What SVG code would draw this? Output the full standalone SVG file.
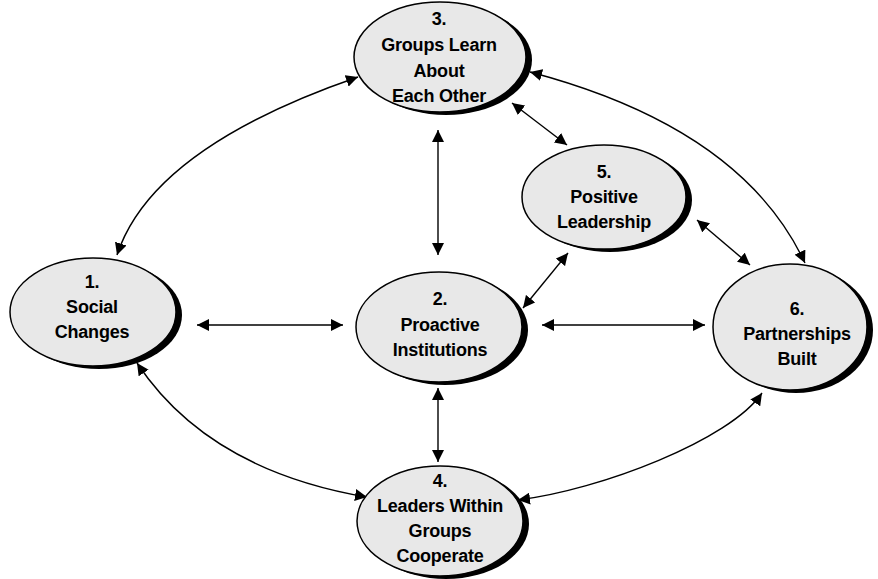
<svg xmlns="http://www.w3.org/2000/svg" width="878" height="579" viewBox="0 0 878 579">
<style>
.sh{fill:#000}
.el{fill:#e8e8e8;stroke:#000;stroke-width:1.5}
.t{font-family:"Liberation Sans",Arial,sans-serif;font-weight:bold;font-size:18px;fill:#000;text-anchor:middle;letter-spacing:-0.2px}
.c{fill:none;stroke:#000;stroke-width:1.4;marker-start:url(#ah);marker-end:url(#ah)}
</style>
<defs>
<marker id="ah" viewBox="0 0 10 10" refX="10" refY="5" markerWidth="12" markerHeight="12" markerUnits="userSpaceOnUse" orient="auto-start-reverse">
<path d="M0,0 L10,5 L0,10 z" fill="#000"/>
</marker>
</defs>
<rect width="878" height="579" fill="#fff"/>
<g id="connectors">
<path class="c" d="M117,255 Q152,148 358,77"/>
<path class="c" d="M530,72 Q742,128 805,263"/>
<path class="c" d="M137,363 Q208,470 367,497"/>
<path class="c" d="M762,393 C730,440 600,490 518,500"/>
<path class="c" d="M197,325 L343,325"/>
<path class="c" d="M542,325 L705,325"/>
<path class="c" d="M438,130 L438,255"/>
<path class="c" d="M438,388 L438,462"/>
<path class="c" d="M512,103 L567,145"/>
<path class="c" d="M568,253 L523,308"/>
<path class="c" d="M697,220 L750,265"/>
</g>
<g id="node3">
<ellipse class="sh" cx="446" cy="60" rx="86" ry="55"/>
<ellipse class="el" cx="440" cy="57" rx="86" ry="55"/>
<text class="t" x="439" y="25">3.</text>
<text class="t" x="439" y="51">Groups Learn</text>
<text class="t" x="439" y="77">About</text>
<text class="t" x="439" y="102">Each Other</text>
</g>
<g id="node1">
<ellipse class="sh" cx="99" cy="315" rx="83" ry="54"/>
<ellipse class="el" cx="93" cy="312" rx="83" ry="54"/>
<text class="t" x="92" y="288">1.</text>
<text class="t" x="92" y="313">Social</text>
<text class="t" x="92" y="338">Changes</text>
</g>
<g id="node2">
<ellipse class="sh" cx="445" cy="330" rx="83" ry="55"/>
<ellipse class="el" cx="439" cy="327" rx="83" ry="55"/>
<text class="t" x="440" y="305">2.</text>
<text class="t" x="440" y="331">Proactive</text>
<text class="t" x="440" y="356">Institutions</text>
</g>
<g id="node4">
<ellipse class="sh" cx="446" cy="524" rx="83" ry="55"/>
<ellipse class="el" cx="440" cy="521" rx="83" ry="55"/>
<text class="t" x="440" y="487">4.</text>
<text class="t" x="440" y="512">Leaders Within</text>
<text class="t" x="440" y="537">Groups</text>
<text class="t" x="440" y="562">Cooperate</text>
</g>
<g id="node5">
<ellipse class="sh" cx="610" cy="200" rx="82" ry="52"/>
<ellipse class="el" cx="604" cy="197" rx="82" ry="52"/>
<text class="t" x="604" y="178">5.</text>
<text class="t" x="604" y="203">Positive</text>
<text class="t" x="604" y="228">Leadership</text>
</g>
<g id="node6">
<ellipse class="sh" cx="796" cy="330" rx="77" ry="63"/>
<ellipse class="el" cx="790" cy="327" rx="77" ry="63"/>
<text class="t" x="797" y="315">6.</text>
<text class="t" x="797" y="340">Partnerships</text>
<text class="t" x="797" y="365">Built</text>
</g>
</svg>
